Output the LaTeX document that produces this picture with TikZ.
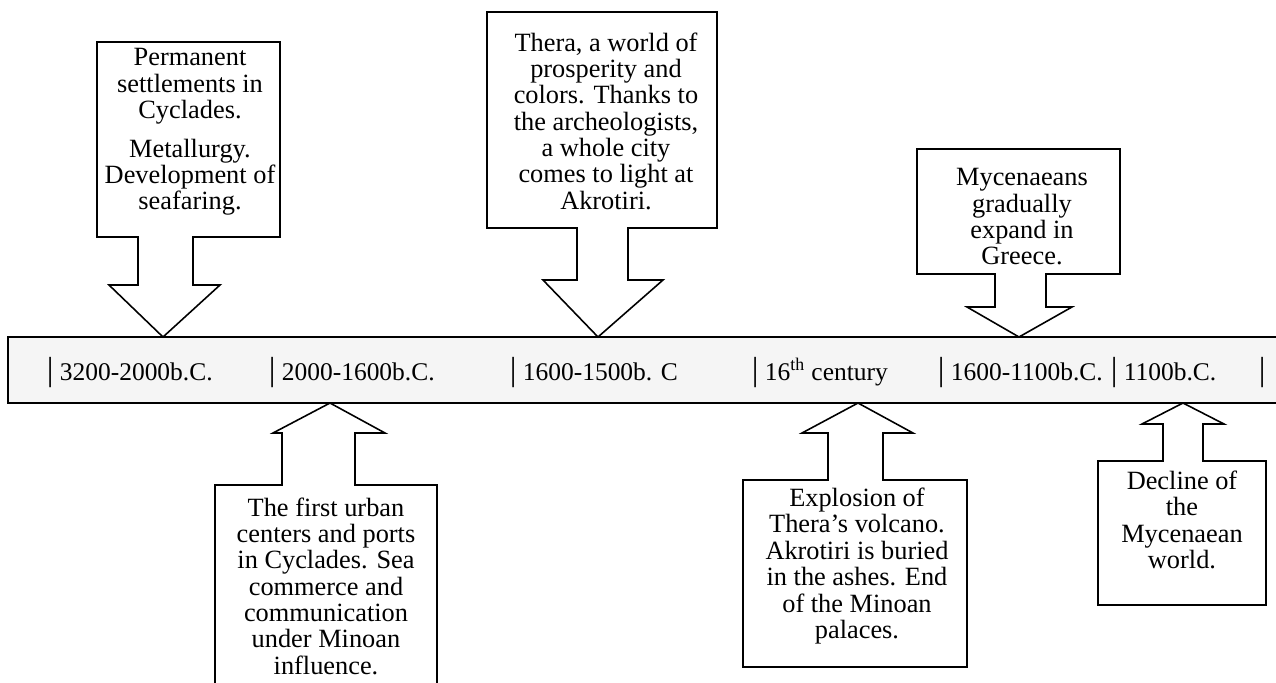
\documentclass[tikz,border=0pt]{standalone}
\usepackage{fontspec}
\setmainfont{Liberation Serif}

\newcommand{\barmark}{{\fontsize{19}{19}\selectfont|}}

\begin{document}
\begin{tikzpicture}[x=0.02cm,y=-0.02cm,line width=0.9pt]

      \useasboundingbox (0,0) rectangle (1276,683);

      % the time bar
      \fill[gray!8] (8,337) rectangle (1290,403);
      \draw (1290,337) -- (8,337) -- (8,403) -- (1290,403);

      % callouts pointing down
      \draw (97,42) -- (280,42) -- (280,237) -- (193,237) -- (193,285) -- (220,285)
        -- (163,337) -- (109,285) -- (138,285) -- (138,237) -- (97,237) -- cycle;
      \draw (487,12) -- (717,12) -- (717,228) -- (628,228) -- (628,280) -- (663,280)
        -- (598,337) -- (543,280) -- (577,280) -- (577,228) -- (487,228) -- cycle;
      \draw (917,149) -- (1120,149) -- (1120,274) -- (1046,274) -- (1046,307) -- (1072,307)
        -- (1019,337) -- (967,307) -- (995,307) -- (995,274) -- (917,274) -- cycle;

      % callouts pointing up
      \draw (215,700) -- (215,485) -- (282,485) -- (282,433) -- (273,433) -- (330,403)
        -- (385,433) -- (355,433) -- (355,485) -- (437,485) -- (437,700);
      \draw (743,667) -- (743,480) -- (828,480) -- (828,433) -- (802,433) -- (858,403)
        -- (913,433) -- (883,433) -- (883,480) -- (967,480) -- (967,667) -- cycle;
      \draw (1098,605) -- (1098,461) -- (1163,461) -- (1163,424) -- (1142,424) -- (1183,403)
        -- (1224,424) -- (1203,424) -- (1203,461) -- (1266,461) -- (1266,605) -- cycle;

      \begin{scope}[every node/.style={align=center,inner sep=0pt,
          font=\fontsize{15}{15}\selectfont}]
        \node (settle) at (190,132) {Permanent\\settlements in\\Cyclades.\\[7pt]
          Metallurgy.\\Development of\\seafaring.};
        \node (thera) at (606,121) {Thera, a world of\\prosperity and\\colors. Thanks to\\
          the archeologists,\\a whole city\\comes to light at\\Akrotiri.};
        \node (myc) at (1022,217) {Mycenaeans\\gradually\\expand in\\Greece.};
        \node (urban) at (326,586) {The first urban\\centers and ports\\in Cyclades. Sea\\
          commerce and\\communication\\under Minoan\\influence.};
        \node (volcano) at (857,566) {Explosion of\\Thera's volcano.\\Akrotiri is buried\\
          in the ashes. End\\of the Minoan\\palaces.};
        \node (decline) at (1182,520) {Decline of\\the\\Mycenaean\\world.};
      \end{scope}

      \begin{scope}[every node/.style={anchor=base west,inner sep=0pt,
          font=\fontsize{14.5}{16}\selectfont}]
        \node (p1) at (46,380) {\barmark\ 3200-2000b.C.};
        \node (p2) at (268,380) {\barmark\ 2000-1600b.C.};
        \node (p3) at (509,380) {\barmark\ 1600-1500b. C};
        \node (p4) at (751,380) {\barmark\ 16\textsuperscript{th} century};
        \node (p5) at (937,380) {\barmark\ 1600-1100b.C.};
        \node (p6) at (1110,380) {\barmark\ 1100b.C.};
        \node (pend) at (1258,380) {\barmark};
      \end{scope}

    \end{tikzpicture}
\end{document}
